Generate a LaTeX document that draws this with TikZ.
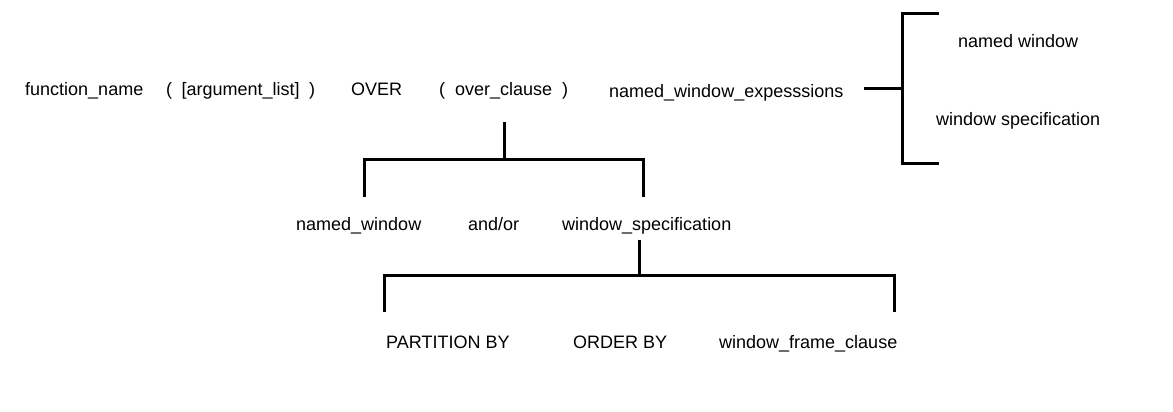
\documentclass[tikz,border=0pt]{standalone}
\usepackage{fontspec}
\setmainfont{Liberation Sans}
\begin{document}
\begin{tikzpicture}[x=1pt,y=-1pt,
  lbl/.style={anchor=base west,inner sep=0pt,font=\fontsize{18}{20}\selectfont},
  brk/.style={line width=3pt,line join=miter}]
\useasboundingbox[fill=white] (0,0) rectangle (1173,412);
% top row
\node[lbl] (fn) at (25,95.5) {function\_name};
\node[lbl] (args) at (166,95.5) {(\hspace{9.5pt}[argument\_list]\hspace{9.5pt})};
\node[lbl] (over) at (351,95.5) {OVER};
\node[lbl] (oc) at (439,95.5) {(\hspace{10pt}over\_clause\hspace{10pt})};
\node[lbl] (nwe) at (609,97) {named\_window\_expesssions};
\node[lbl] (nw2) at (958,48) {named window};
\node[lbl] (ws2) at (936,125) {window specification};
% middle row
\node[lbl] (nw) at (296,230) {named\_window};
\node[lbl] (andor) at (468,230) {and/or};
\node[lbl] (ws) at (562,230) {window\_specification};
% bottom row
\node[lbl] (pb) at (386,348) {PARTITION BY};
\node[lbl] (ob) at (573,348) {ORDER BY};
\node[lbl] (wfc) at (719,348) {window\_frame\_clause};
% coordinates
\coordinate (ocb) at (504,122);
\coordinate (ocj) at (504,159);
\coordinate (nwt) at (364,197);
\coordinate (wst) at (643,197);
\coordinate (wsb) at (639,240);
\coordinate (wsj) at (639,275);
\coordinate (pbt) at (384,312);
\coordinate (wfct) at (894,312);
\coordinate (nwer) at (864,89);
\coordinate (brx) at (902,89);
\coordinate (nw2l) at (939,14);
\coordinate (ws2l) at (939,163);
% brackets
\draw[brk] (ocb) -- (ocj);
\draw[brk] (nwt) |- (ocj) -| (wst);
\draw[brk] (wsb) -- (wsj);
\draw[brk] (pbt) |- (wsj) -| (wfct);
\draw[brk] (nwer) -- (brx);
\draw[brk] (nw2l) -| (brx) |- (ws2l);
\end{tikzpicture}
\end{document}
